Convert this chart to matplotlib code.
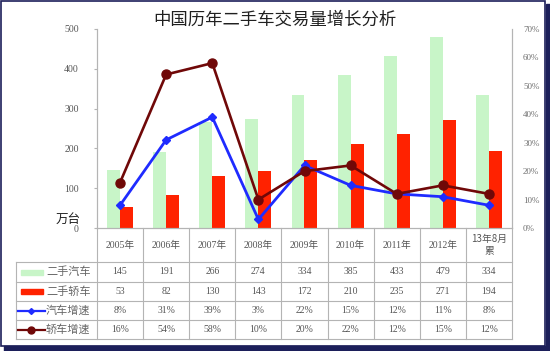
import numpy as np
import matplotlib
matplotlib.use('Agg')
import matplotlib.pyplot as plt
from matplotlib.lines import Line2D
from matplotlib.patches import Rectangle

plt.rcParams['font.family'] = ['Noto Sans CJK SC', 'DejaVu Sans']

# data
years = ['2005年', '2006年', '2007年', '2008年', '2009年', '2010年', '2011年', '2012年', '13年8月\n累']
used_cars = [145, 191, 266, 274, 334, 385, 433, 479, 334]
used_sedans = [53, 82, 130, 143, 172, 210, 235, 271, 194]
car_growth = [8, 31, 39, 3, 22, 15, 12, 11, 8]
sedan_growth = [16, 54, 58, 10, 20, 22, 12, 15, 12]
series_names = ['二手汽车', '二手轿车', '汽车增速', '轿车增速']

GREEN = '#c8f5c8'
RED = '#ff2200'
BLUE = '#1f2bff'
DRED = '#700808'
GRID = '#b4b4b4'
TXT = '#555555'
SERIF = ['Liberation Serif', 'DejaVu Serif']

W, H = 550, 351
x0, x1, ytop, ybot = 97, 512, 29, 228
row_edges = [228, 262, 282, 301, 320, 339]
lab_left = 16


def fx(x):
    return x / W


def fy(y):
    return 1 - y / H


fig = plt.figure(figsize=(W / 100, H / 100), dpi=100)
fig.patch.set_facecolor('white')

ax = fig.add_axes([fx(x0), fy(ybot), fx(x1) - fx(x0), fy(ytop) - fy(ybot)])
ax2 = ax.twinx()

n = len(years)
x = np.arange(n)
bw = 0.28
ax.bar(x - bw / 2, used_cars, width=bw, color=GREEN, zorder=2)
ax.bar(x + bw / 2, used_sedans, width=bw, color=RED, zorder=2)
ax.set_xlim(-0.5, n - 0.5)
ax.set_ylim(0, 500)
ax.set_yticks(range(0, 501, 100))
ax.set_xticks([])
for lab in ax.get_yticklabels():
    lab.set_family(SERIF)
ax.tick_params(axis='y', length=2, color=GRID, pad=11, labelsize=7, labelcolor=TXT)

ax2.plot(x, car_growth, color=BLUE, lw=2, marker='D', ms=4, zorder=3)
ax2.plot(x, sedan_growth, color=DRED, lw=1.9, marker='o', ms=6.5, zorder=4)
ax2.set_ylim(0, 70)
ax2.set_yticks(range(0, 71, 10))
ax2.set_yticklabels([f'{v}%' for v in range(0, 71, 10)], family=SERIF)
ax2.tick_params(axis='y', length=0, pad=8, labelsize=6.5, labelcolor='#707070')

for a in (ax, ax2):
    a.spines['top'].set_visible(False)
    a.spines['left'].set_color(GRID)
    a.spines['right'].set_color(GRID)
    a.spines['bottom'].set_color(GRID)
    a.patch.set_alpha(0)

fig.text(fx(275), fy(20), '中国历年二手车交易量增长分析', ha='center', va='center',
         fontsize=12.5, color='#202020')
fig.text(fx(68), fy(219), '万台', ha='center', va='center', fontsize=9, color='#202020')

# table
col_w = (x1 - x0) / n
def hline(xa, xb, y):
    fig.add_artist(Line2D([fx(xa), fx(xb)], [fy(y), fy(y)], color=GRID, lw=0.8))

def vline(x, ya, yb):
    fig.add_artist(Line2D([fx(x), fx(x)], [fy(ya), fy(yb)], color=GRID, lw=0.8))

for i in range(n + 1):
    vline(x0 + i * col_w, row_edges[0], row_edges[-1])
vline(lab_left, row_edges[1], row_edges[-1])
for y in row_edges[1:]:
    hline(lab_left, x1, y)

for i, yr in enumerate(years):
    fig.text(fx(x0 + (i + 0.5) * col_w), fy((row_edges[0] + row_edges[1]) / 2), yr,
             ha='center', va='center', fontsize=7, color=TXT, linespacing=1.3,
             family=['Noto Sans CJK SC'] if '\n' in yr else SERIF + ['Noto Sans CJK SC'])

rows = [used_cars, used_sedans,
        [f'{v}%' for v in car_growth], [f'{v}%' for v in sedan_growth]]
for r, vals in enumerate(rows):
    yc = (row_edges[r + 1] + row_edges[r + 2]) / 2
    for i, v in enumerate(vals):
        fig.text(fx(x0 + (i + 0.5) * col_w), fy(yc), str(v), ha='center', va='center',
                 fontsize=7, color=TXT, family=SERIF)
    fig.text(fx(46), fy(yc), series_names[r], ha='left', va='center', fontsize=8, color='#666666')
    if r < 2:
        fig.add_artist(Rectangle((fx(21), fy(yc + 2.5)), fx(22), fy(0) - fy(5),
                                 color=[GREEN, RED][r]))
    else:
        col = BLUE if r == 2 else DRED
        fig.add_artist(Line2D([fx(18), fx(45)], [fy(yc), fy(yc)], color=col, lw=1.6))
        fig.add_artist(Line2D([fx(31)], [fy(yc)], color=col,
                              marker='D' if r == 2 else 'o', ms=3 if r == 2 else 5))

# outer frame with shadow
fig.add_artist(Rectangle((fx(1), fy(346)), fx(545) - fx(1), fy(1) - fy(346),
                         fill=False, edgecolor='#1c1f5a', lw=1.2))
fig.add_artist(Rectangle((fx(546), fy(351)), fx(4), fy(0) - fy(351) + fy(4) - fy(0),
                         color='#1c1f5a'))
fig.add_artist(Rectangle((fx(4), fy(351)), fx(546), fy(346) - fy(351), color='#1c1f5a'))

fig.savefig('out.png', dpi=100)
